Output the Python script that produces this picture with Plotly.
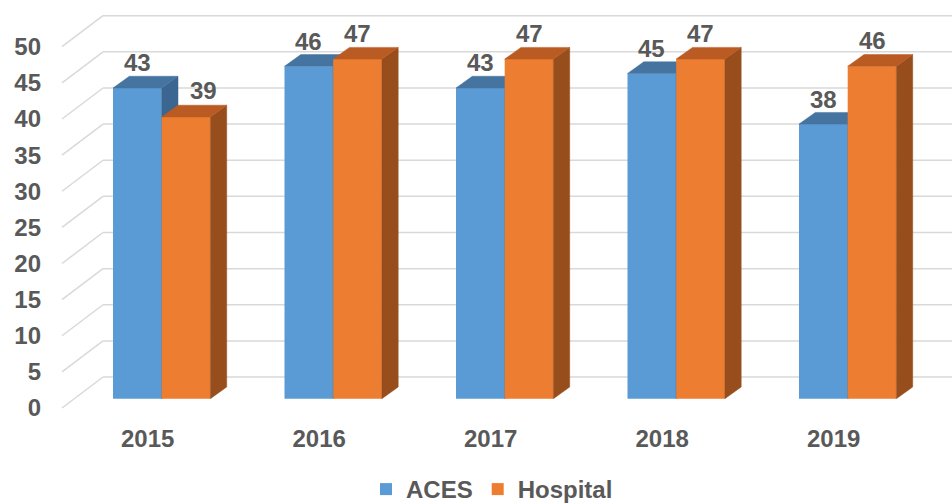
import plotly.graph_objects as go

# ---- data ----
years = ["2015", "2016", "2017", "2018", "2019"]
aces = [43, 46, 43, 45, 38]
hospital = [39, 47, 47, 47, 46]
y_ticks = [0, 5, 10, 15, 20, 25, 30, 35, 40, 45, 50]

# ---- geometry (pixel calibration of the Excel-style 3D look) ----
PX_PER_CAT = 171.5          # pixels per category step
PX_PER_UNIT = 7.226         # pixels per value unit
BAR_W = 48.7 / PX_PER_CAT   # width of each bar (category units)
DX = 16.3 / PX_PER_CAT      # depth offset x
DY = 11.7 / PX_PER_UNIT     # depth offset y
BACK_OFF = 3.0              # back wall vertical offset (value units)
FRONT_OFF = -1.29           # front floor vertical offset
X_FRONT = (62 - 161.7) / PX_PER_CAT
X_BACK = (103 - 161.7) / PX_PER_CAT
LABEL_SHIFT = 14 / PX_PER_CAT

PLOT_LEFT = 44
PLOT_BOTTOM = 412
X_RANGE = [(PLOT_LEFT - 161.7) / PX_PER_CAT, (952 - 161.7) / PX_PER_CAT]
Y_RANGE = [(398.7 - PLOT_BOTTOM) / PX_PER_UNIT, 398.7 / PX_PER_UNIT]

FONT = dict(family="Liberation Sans, Arial, sans-serif", size=24, color="#595959", weight="bold")

series = [
    dict(name="ACES", vals=aces, off=-BAR_W, front="#5B9BD5", top="#44749F", side="#3A6691",
         xa="x", ya="y"),
    dict(name="Hospital", vals=hospital, off=0.0, front="#ED7D31", top="#B95B22", side="#974E1C",
         xa="x2", ya="y2"),
]

idx = list(range(len(years)))
fig = go.Figure()

for s in series:
    fig.add_trace(go.Bar(
        x=idx, y=s["vals"], width=BAR_W, offset=s["off"], name=s["name"],
        marker=dict(color=s["front"], line=dict(width=0)),
        xaxis=s["xa"], yaxis=s["ya"], hoverinfo="skip"))
    tx, ty, sx, sy = [], [], [], []
    for i, v in zip(idx, s["vals"]):
        xl = i + s["off"]
        xr = xl + BAR_W
        tx += [xl, xr, xr + DX, xl + DX, xl, None]
        ty += [v, v, v + DY, v + DY, v, None]
        sx += [xr, xr + DX, xr + DX, xr, xr, None]
        sy += [0, DY, v + DY, v, 0, None]
    fig.add_trace(go.Scatter(x=sx, y=sy, mode="lines", fill="toself", fillcolor=s["side"],
                             line=dict(color=s["side"], width=0.5), showlegend=False,
                             hoverinfo="skip", xaxis=s["xa"], yaxis=s["ya"]))
    fig.add_trace(go.Scatter(x=tx, y=ty, mode="lines", fill="toself", fillcolor=s["top"],
                             line=dict(color=s["top"], width=0.5), showlegend=False,
                             hoverinfo="skip", xaxis=s["xa"], yaxis=s["ya"]))

# gridlines (back wall + left diagonal)
for t in y_ticks:
    fig.add_shape(type="line", xref="x", yref="y", x0=X_FRONT, y0=t + FRONT_OFF,
                  x1=X_BACK, y1=t + BACK_OFF, line=dict(color="#D9D9D9", width=1.5), layer="below")
    fig.add_shape(type="line", xref="x", yref="y", x0=X_BACK, y0=t + BACK_OFF,
                  x1=X_RANGE[1], y1=t + BACK_OFF, line=dict(color="#D9D9D9", width=1.5), layer="below")

# data labels
for i in idx:
    fig.add_annotation(x=i - BAR_W / 2, y=aces[i], xref="x", yref="y", text=str(aces[i]),
                       showarrow=False, yshift=25, font=FONT)
    fig.add_annotation(x=i + BAR_W / 2, y=hospital[i], xref="x", yref="y", text=str(hospital[i]),
                       showarrow=False, yshift=26, xshift=17 if aces[i] > hospital[i] else 0,
                       font=FONT)

fig.update_layout(
    width=952, height=504,
    margin=dict(l=PLOT_LEFT, r=0, t=0, b=504 - PLOT_BOTTOM, autoexpand=False),
    plot_bgcolor="white", paper_bgcolor="white",
    barmode="overlay",
    font=FONT,
    showlegend=True,
    legend=dict(orientation="h", x=(492 - PLOT_LEFT) / (952 - PLOT_LEFT), xanchor="center",
                y=-(512 - PLOT_BOTTOM) / PLOT_BOTTOM, yanchor="bottom", font=FONT,
                itemclick=False, itemwidth=30, tracegroupgap=0, borderwidth=0),
    xaxis=dict(range=X_RANGE, tickvals=[i - LABEL_SHIFT for i in idx], ticktext=years,
               showgrid=False, zeroline=False, showline=False, ticks="", automargin=False,
               tickfont=FONT, ticklabelstandoff=10),
    yaxis=dict(range=Y_RANGE, tickvals=[t + FRONT_OFF for t in y_ticks],
               ticktext=[str(t) for t in y_ticks], showgrid=False, zeroline=False,
               showline=False, ticks="", automargin=False, tickfont=FONT, ticklabelstandoff=2),
    xaxis2=dict(range=X_RANGE, overlaying="x", visible=False),
    yaxis2=dict(range=Y_RANGE, overlaying="y", visible=False),
)

fig.write_html("out.html", config={"displayModeBar": False},
               post_script="document.body.style.margin='0';")
